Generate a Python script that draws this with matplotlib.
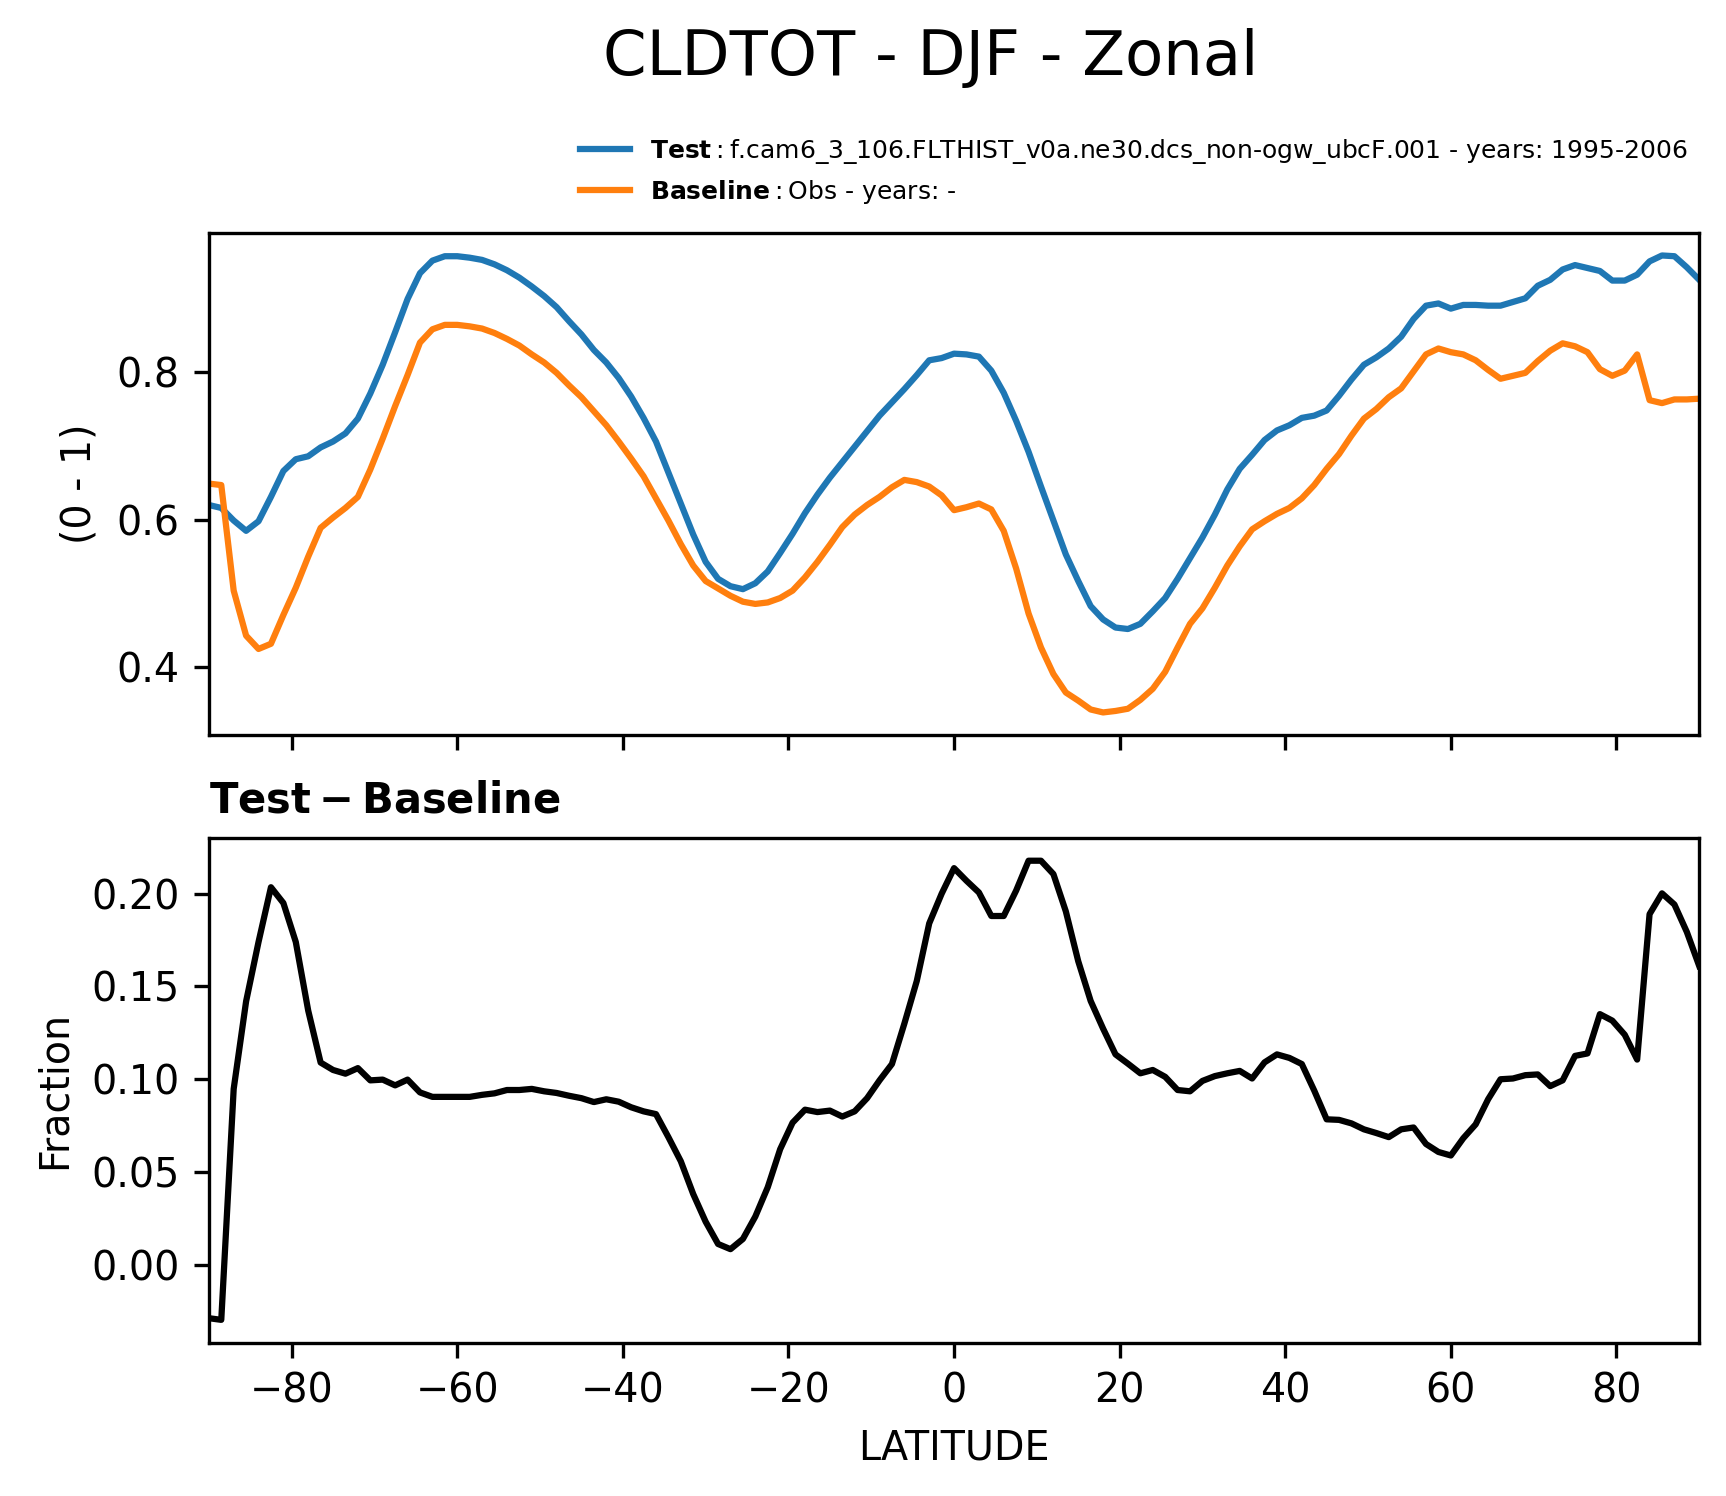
import numpy as np
import matplotlib
matplotlib.use("Agg")
import matplotlib.pyplot as plt

# latitude grid (1.5 degree spacing, -90 .. 90)
lat = np.linspace(-90, 90, 121)

# zonal mean total cloud fraction, test run
test = [0.620, 0.616, 0.599, 0.585, 0.598, 0.631, 0.666, 0.682, 0.686, 0.698,
        0.706, 0.717, 0.737, 0.771, 0.810, 0.854, 0.899, 0.934, 0.951, 0.957,
        0.957, 0.955, 0.952, 0.946, 0.938, 0.928, 0.916, 0.903, 0.888, 0.869,
        0.851, 0.830, 0.813, 0.792, 0.767, 0.738, 0.706, 0.664, 0.622, 0.580,
        0.543, 0.520, 0.510, 0.506, 0.514, 0.530, 0.555, 0.581, 0.609, 0.634,
        0.657, 0.678, 0.699, 0.720, 0.741, 0.759, 0.777, 0.796, 0.816, 0.819,
        0.825, 0.824, 0.821, 0.802, 0.772, 0.734, 0.692, 0.645, 0.599, 0.553,
        0.517, 0.483, 0.465, 0.454, 0.452, 0.459, 0.476, 0.494, 0.520, 0.548,
        0.576, 0.607, 0.641, 0.669, 0.688, 0.708, 0.721, 0.728, 0.738, 0.741,
        0.748, 0.768, 0.790, 0.810, 0.820, 0.832, 0.848, 0.872, 0.890, 0.893,
        0.886, 0.891, 0.891, 0.890, 0.890, 0.895, 0.900, 0.917, 0.925, 0.939,
        0.945, 0.941, 0.937, 0.924, 0.924, 0.932, 0.950, 0.958, 0.957, 0.942,
        0.925]

# baseline (obs)
baseline = [0.649, 0.647, 0.504, 0.443, 0.425, 0.432, 0.471, 0.508, 0.550, 0.589,
            0.603, 0.616, 0.631, 0.668, 0.710, 0.754, 0.796, 0.840, 0.858, 0.864,
            0.864, 0.862, 0.859, 0.853, 0.845, 0.836, 0.824, 0.813, 0.799, 0.782,
            0.766, 0.747, 0.728, 0.706, 0.683, 0.659, 0.629, 0.599, 0.567, 0.538,
            0.517, 0.507, 0.497, 0.489, 0.486, 0.488, 0.494, 0.504, 0.522, 0.543,
            0.566, 0.590, 0.607, 0.620, 0.631, 0.644, 0.654, 0.651, 0.645, 0.633,
            0.613, 0.617, 0.622, 0.614, 0.585, 0.534, 0.473, 0.427, 0.391, 0.366,
            0.355, 0.343, 0.339, 0.341, 0.344, 0.356, 0.371, 0.394, 0.427, 0.459,
            0.480, 0.508, 0.538, 0.564, 0.587, 0.598, 0.608, 0.616, 0.629, 0.647,
            0.669, 0.689, 0.714, 0.737, 0.750, 0.766, 0.778, 0.801, 0.824, 0.832,
            0.827, 0.824, 0.816, 0.803, 0.791, 0.795, 0.799, 0.815, 0.829, 0.839,
            0.835, 0.827, 0.804, 0.795, 0.802, 0.824, 0.762, 0.758, 0.763, 0.763,
            0.764]

# test - baseline
diff = [-0.0288, -0.0297, 0.0948, 0.142, 0.174, 0.2035, 0.195, 0.174, 0.137, 0.109,
        0.105, 0.103, 0.106, 0.0994, 0.0998, 0.0967, 0.0998, 0.0929, 0.0905, 0.0905,
        0.0905, 0.0905, 0.0916, 0.0924, 0.0942, 0.0942, 0.0948, 0.0935, 0.0926, 0.0911,
        0.0898, 0.0877, 0.0892, 0.0879, 0.0849, 0.0827, 0.0812, 0.0688, 0.0558, 0.0381,
        0.0232, 0.0112, 0.0084, 0.0139, 0.0260, 0.0418, 0.0623, 0.0766, 0.0836, 0.0823,
        0.0831, 0.0799, 0.0827, 0.0898, 0.0994, 0.1082, 0.130, 0.153, 0.184, 0.200,
        0.2138, 0.207, 0.2007, 0.188, 0.188, 0.2017, 0.2178, 0.2178, 0.2106, 0.1905,
        0.1636, 0.1422, 0.1273, 0.1134, 0.1084, 0.1032, 0.1050, 0.1013, 0.0942, 0.0935,
        0.0991, 0.1017, 0.1032, 0.1045, 0.1004, 0.1091, 0.1134, 0.1115, 0.1082, 0.0939,
        0.0784, 0.0781, 0.0762, 0.0730, 0.0710, 0.0688, 0.0730, 0.0740, 0.0651, 0.0608,
        0.0589, 0.0682, 0.0757, 0.0892, 0.1000, 0.1004, 0.1022, 0.1026, 0.0963, 0.0994,
        0.1126, 0.1139, 0.1351, 0.1316, 0.124, 0.1106, 0.189, 0.2002, 0.1942, 0.1794,
        0.161]

test_label = r"$\bf{Test}\mathrm{:}$f.cam6_3_106.FLTHIST_v0a.ne30.dcs_non-ogw_ubcF.001 - years: 1995-2006"
base_label = r"$\bf{Baseline}\mathrm{:}$Obs - years: -"

fig = plt.figure(figsize=(1726 / 300, 1496 / 300), dpi=300)
ax1 = fig.add_axes([0.1210, 0.5085, 0.8635, 0.3360])
ax2 = fig.add_axes([0.1210, 0.1024, 0.8635, 0.3376], sharex=ax1)

ax1.plot(lat, test, color="#1f77b4", lw=1.5, label=test_label)
ax1.plot(lat, baseline, color="#ff7f0e", lw=1.5, label=base_label)
ax1.set_ylabel("(0 - 1)", fontsize=9.5)
ax1.set_yticks([0.4, 0.6, 0.8])
ax1.tick_params(labelsize=9.5, labelbottom=False)
ax1.legend(loc="lower right", bbox_to_anchor=(1.007, 1.008), frameon=False, fontsize=6)

ax2.plot(lat, diff, color="black", lw=1.5)
ax2.set_title(r"$\bf{Test - Baseline}$", loc="left", fontsize=10)
ax2.set_ylabel("Fraction", fontsize=9.5)
ax2.set_xlabel("LATITUDE", fontsize=9.5)
ax2.set_xlim(-90, 90)
ax2.set_xticks([-80, -60, -40, -20, 0, 20, 40, 60, 80])
ax2.tick_params(labelsize=9.5)

fig.text(0.539, 0.961, "CLDTOT - DJF - Zonal", ha="center", va="center", fontsize=15)

fig.savefig("out.png", dpi=300)
